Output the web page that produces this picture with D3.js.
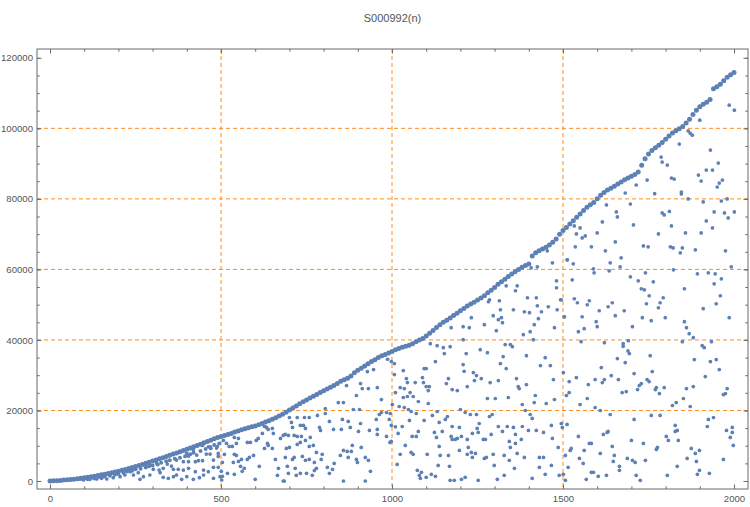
<!DOCTYPE html>
<html>
<head>
<meta charset="utf-8">
<script src="https://cdn.jsdelivr.net/npm/d3@7"></script>
<style>
html,body{margin:0;padding:0;background:#fff;}
svg{display:block;}
</style>
</head>
<body>
<svg id="chart" width="750" height="507"></svg>
<script>
// ---------- data ----------
const title = "S000992(n)";
const xTickLabels = [0, 500, 1000, 1500, 2000];
const yTickLabels = [0, 20000, 40000, 60000, 80000, 100000, 120000];

// upper envelope of the sequence, one value every 10 n (n = 0, 10, 20, ... 2000)
const envelopeStep = 10;
const envelopeValues = [
0,50,100,170,250,330,420,520,630,760,
900,1050,1200,1380,1560,1750,1940,2140,2350,2570,
2800,3040,3290,3550,3820,4100,4390,4690,5000,5320,
5640,5960,6290,6620,6950,7290,7630,7970,8310,8640,
8970,9340,9700,10070,10450,10830,11200,11550,11950,12300,
12600,12900,13200,13500,13900,14200,14500,14800,15100,15350,
15600,15950,16300,16700,17100,17500,17950,18450,18950,19500,
20100,20700,21300,21900,22500,23000,23500,24000,24550,25100,
25600,26100,26550,27050,27650,28250,28700,29100,29800,30700,
31400,32000,32600,33250,33850,34400,35000,35500,35900,36300,
36700,37200,37600,37900,38200,38500,38900,39500,40000,40400,
41100,41900,42700,43500,44300,45000,45600,46200,46900,47600,
48300,48900,49600,50200,50700,51300,51900,52500,53400,54100,
54900,55800,56500,57200,58000,58700,59300,60000,60600,61100,
61500,63800,64700,65300,65800,66300,66900,67700,68600,70000,
71000,71900,72900,73800,74800,75700,76700,77600,78300,79000,
80000,81000,81800,82500,83000,83600,84200,84800,85400,85900,
86400,86900,87600,89500,91400,92700,93700,94500,95200,96000,
96900,97800,98700,99300,99900,100500,101500,102600,103900,105100,
106100,106800,107400,108200,111200,111800,112500,113500,114500,115200,
115800
];

// terms lying just under the envelope for small n, [n, value]
const nearEnvelopePoints = [
[110,500],[130,700],[145,1100],[160,1300],[175,1500],[190,1800],[200,2000],[215,2300],[225,2700],[240,2900],
[250,3300],[265,3500],[280,3800],[290,4200],[300,4400],[315,4700],[325,5200],[340,5600],[350,5900],[365,6300],
[380,6600],[395,7000],[410,7600],[420,8000],[440,8500],[455,9100],[470,9300],[480,10200],[495,10600]
];

// scattered terms below the envelope, [n, value]
const scatterPoints = [
[463,9710],[469,9710],[446,10090],[487,9340],[457,7640],[446,5750],[434,5750],[425,5470],[405,5470],[390,5470],
[400,7830],[419,8770],[370,5940],[343,4810],[355,4240],[361,3300],[375,3300],[390,3110],[405,3580],[425,2640],
[449,3110],[463,2640],[478,3870],[492,3870],[449,1700],[437,940],[419,470],[400,1230],[385,470],[370,1700],
[361,1230],[346,750],[331,1040],[319,3110],[302,3300],[292,1700],[273,1230],[263,470],[244,1700],[258,2360],
[281,4050],[312,5000],[331,3580],[322,2360],[219,1700],[205,1230],[185,940],[166,570],[151,750],[137,570],
[195,2360],[176,1980],[156,1420],[127,940],[117,470],[98,280],[88,570],[234,2640],[292,4520],[405,7070],
[429,7360],[468,7640],[492,7830],[478,5940],[497,1230],[478,750],[502,280],
[928,31020],[946,31590],[867,27060],[908,27630],[913,26220],[931,26220],[957,26500],[969,23100],[896,24240],[987,34520],
[998,33850],[843,22250],[858,22250],[887,20270],[905,20270],[805,20560],[782,18580],[805,19140],[963,18860],[954,17450],
[969,19430],[984,19430],[995,19140],[992,17450],[855,17450],[852,14620],[817,16880],[829,14620],[872,16880],[878,15180],
[902,14050],[908,16310],[934,14330],[957,14620],[957,13200],[984,12640],[998,11220],[700,18010],[723,18010],[744,18010],
[758,18010],[788,15180],[791,14330],[741,15750],[732,15750],[709,15180],[714,12920],[723,12640],[735,12640],[747,14900],
[706,16600],[688,13200],[697,12920],[700,9520],[723,10370],[732,10940],[747,11500],[761,12350],[758,9810],[770,10090],
[779,8110],[796,7550],[793,6130],[773,5280],[758,6130],[747,5850],[738,6980],[709,6130],[714,6690],[717,3580],
[694,4150],[697,2170],[720,1600],[732,2170],[750,2170],[767,1600],[773,2960],[779,3580],[817,2170],[811,3870],
[826,3300],[831,4990],[849,7260],[858,8680],[869,8390],[872,6690],[881,8390],[896,6130],[899,5280],[922,6690],
[910,9520],[884,10090],[931,5850],[937,2740],[858,0],[922,0],[682,0],[685,0],[600,470],[665,1600],
[668,3580],[659,6130],[688,6690],[691,9240],[674,12070],[682,12920],[653,13480],[650,14900],[627,15470],[633,15180],
[638,14620],[621,13480],[609,12070],[603,11500],[586,10940],[577,10940],[636,10660],[627,9240],[650,9240],[638,10090],
[595,7260],[583,6690],[577,6130],[560,6130],[551,5560],[545,7260],[539,7550],[536,5280],[557,4150],[568,3580],
[562,2740],[539,1880],[519,2170],[504,1320],[501,2740],[492,6980],[504,5280],[510,7550],[489,9810],[507,11500],
[516,10660],[524,9810],[533,9810],[539,12350],[545,10660],[551,12070],[612,4150],
[1112,38950],[1132,38380],[1150,37810],[1170,38100],[1153,36120],[1217,36120],[1258,37250],[1279,36400],[1331,38670],[1346,38670],
[1352,38100],[1325,35270],[1317,33290],[1334,31870],[1393,35550],[1448,34980],[1434,32720],[1463,32720],[1127,33850],[1007,33290],
[1208,33000],[1211,31120],[1033,31310],[1007,30180],[1094,31870],[1100,31870],[1089,29330],[1092,27910],[1042,29050],[1045,27910],
[1068,27910],[1159,27630],[1165,29050],[1238,30740],[1247,29890],[1241,28480],[1261,29050],[1287,27910],[1311,28480],[1364,29050],
[1369,26780],[1372,26220],[1393,27350],[1419,24240],[1472,28760],[1475,23110],[1451,21970],[1010,25080],[1024,26500],[1036,26220],
[1033,23670],[1045,23960],[1053,25080],[1062,23960],[1077,22540],[1100,26780],[1109,26780],[1106,25650],[1106,21970],[1176,25930],
[1191,25650],[1220,26780],[1279,23390],[1302,23390],[1340,23670],[1381,21690],[1416,22250],[1001,21690],[1021,21120],[1036,20840],
[1048,20270],[1056,19710],[1071,19140],[1132,19710],[1156,17450],[1162,18290],[1200,20270],[1214,19430],[1229,18860],[1247,18860],
[1285,18290],[1293,18860],[1390,19990],[1404,18860],[1410,17730],[998,15750],[1010,15370],[1030,15460],[1018,13480],[1051,17170],
[1094,17170],[1118,18580],[1138,16600],[1124,13770],[1147,14050],[1130,12350],[1176,15460],[1197,15180],[1173,12640],[1176,11790],
[1185,11790],[1191,12070],[1203,12640],[1220,11790],[1235,13480],[1249,14900],[1255,16310],[1252,13770],[1267,11790],[1273,11790],
[1290,13200],[1311,15460],[1323,14050],[1337,15460],[1355,15180],[1361,13200],[1343,11220],[1346,9520],[1361,10660],[1378,11790],
[1381,15460],[1399,14330],[1422,14330],[1443,13770],[1469,12070],[1466,15750],[1059,12640],[1071,12640],[1077,14050],[1039,10090],
[1024,7550],[1056,8110],[1062,7550],[1103,7550],[1138,9810],[1141,7260],[1165,7260],[1197,8670],[1223,9520],[1220,7550],
[1232,8110],[1235,6690],[1244,7830],[1270,6410],[1276,6690],[1296,7550],[1328,7260],[1343,5850],[1366,7830],[1387,6690],
[1431,6690],[1443,6690],[1486,9520],[1015,4710],[1135,4430],[1168,4150],[1299,4430],[1358,3580],[1431,3870],[1466,4430],
[1074,3020],[1086,2450],[1080,1600],[1083,760],[1100,1040],[1115,1880],[1127,1320],[1170,190],[1182,190],[1203,470],
[1214,1040],[1252,190],[1308,470],[1328,1600],[1410,760],[1448,1880],[1489,1600],[994,10940],
[1454,65260],[1469,61860],[1513,62710],[1407,60450],[1425,60730],[1481,56770],[1481,54790],[1334,55350],[1366,55350],[1361,53940],
[1396,51960],[1422,51960],[1425,49690],[1493,51390],[1285,51390],[1282,50830],[1314,51110],[1317,48560],[1355,48560],[1387,47990],
[1402,47720],[1437,47990],[1457,49410],[1483,48560],[1232,46300],[1296,46870],[1311,45740],[1320,46300],[1323,44890],[1428,46020],
[1504,46580],[1173,43470],[1208,43750],[1226,43470],[1270,44320],[1305,42620],[1416,44320],[1404,42340],[1384,41490],[1475,43470],
[1413,40080],[1208,40080],
[1545,42340],[1553,39510],[1621,39230],[1676,38950],[1676,38190],[1691,39800],[1690,36870],[1694,36120],[1755,35550],[1682,33570],
[1659,34700],[1612,32160],[1501,30740],[1539,29330],[1518,28200],[1574,27350],[1594,28760],[1615,27910],[1621,28760],[1641,29890],
[1662,28760],[1708,30460],[1761,31030],[1746,28760],[1752,28200],[1729,27630],[1723,27060],[1718,25930],[1685,25370],[1673,25080],
[1773,26500],[1770,25930],[1782,24800],[1796,26500],[1518,25080],[1510,24240],[1571,23390],[1550,21690],[1594,20840],[1609,19990],
[1849,39510],[1869,41770],[1881,40640],[1907,38380],[1913,37810],[1934,39510],[1884,34420],[1931,33850],[1948,34420],[1957,31590],
[1916,29610],[1881,26780],[1861,26220],[1852,23390],[1831,22250],[1820,21410],[1872,21120],[1969,24520],[1975,24800],[1980,26220],
[1495,16310],[1498,15180],[1512,16030],[1638,18860],[1708,17450],[1758,18580],[1784,18580],[1545,12640],[1618,13200],[1629,13770],
[1632,14050],[1577,10660],[1583,10660],[1521,8670],[1524,9240],[1562,8670],[1507,7260],[1515,3870],[1548,6410],[1559,4990],
[1609,7830],[1644,9810],[1650,7260],[1647,5560],[1665,4150],[1665,3020],[1700,11500],[1735,10660],[1688,6410],[1703,5850],
[1711,5280],[1741,5850],[1776,9520],[1773,8960],[1802,12640],[1808,11500],[1828,15750],[1834,14330],[1828,14050],[1837,11500],
[1875,9240],[1887,7830],[1899,8670],[1863,6410],[1890,5560],[1834,4150],[1925,17450],[1940,18010],[1922,15460],[1978,14330],
[1995,15180],[1995,13770],[1989,12350],[1998,10090],[1969,6130],[1583,2450],[1589,2450],[1603,1320],[1627,1600],[1568,470],
[1501,1880],[1507,190],[1714,1600],[1726,190],[1805,1600],[1899,3020],[1893,1880],[1928,2170],
[1682,81660],[1768,81480],[1846,81950],[1846,81380],[1866,79970],[1910,79120],[1963,79400],[1980,79970],[1627,78270],[1697,78550],
[1656,76290],[1659,74870],[1790,76000],[1796,75440],[1811,76430],[1942,76290],[1972,76000],[2001,76290],[1983,74590],[1919,73740],
[1615,73460],[1706,72610],[1817,72330],[1937,71760],[1533,72330],[1550,71760],[1539,70060],[1556,68930],[1565,69500],[1600,70350],
[1779,70060],[1858,70350],[1904,70350],[1653,67800],[1536,66390],[1583,66390],[1735,66670],[1749,66390],[1814,66390],[1822,66100],
[1849,66100],[1843,64690],[1887,65540],[1975,65260],[1624,65260],[1512,62710],[1530,61580],[1638,61860],[1670,63280],[1667,60730],
[1589,60160],[1591,59030],[1635,59600],[1741,59030],[1823,59880],[1992,60730],[1893,58750],[1925,59030],[1945,58750],[1527,57050],
[1697,57900],[1720,56770],[1764,56490],[1963,57330],[1942,55920],[1729,54510],[1738,54220],[1855,54510],[1752,52530],[1793,51960],
[1960,52530],[1533,51680],[1542,50540],[1577,51110],[1571,49980],[1644,50540],[1632,49410],[1744,50260],[1784,50540],[1779,49130],
[1948,50260],[1910,48850],[1504,46580],[1556,46580],[1606,48280],[1679,48280],[1653,46870],[1732,46300],[1758,45450],[1799,46300],
[1986,46300],[1597,45170],[1600,43750],[1703,43750],[1855,45170],[1861,43470],[1562,43190],[1495,51390],
[1986,106560],[2001,105140],[1900,102320],[1866,99300],[1872,98640],[1878,98070],[1840,95530],[1931,93830],[1787,91850],[1790,90430],
[1805,89580],[1954,90150],[1919,88170],[1937,88170],[1896,86760],[1904,85060],[1966,85340],[1957,84490],[1951,83360],[1817,85910],
[1825,85620],[1746,85340],[1714,83930]
];

// ---------- layout ----------
const frame = {left: 37, right: 748, top: 49, bottom: 489};
const dotColor = "#5e81b5";
const gridColor = "#ff8c1a";
const axisColor = "#6b6b6b";
const labelColor = "#555";
const fontFamily = "'Liberation Sans', Arial, sans-serif";

const svg = d3.select("#chart");

const x = d3.scaleLinear().domain([0, 2000]).range([50, 734]);
const y = d3.scaleLinear().domain([0, 120000]).range([481, 57.8]);

// gridlines
const grid = svg.append("g");
grid.selectAll("line.gx").data(xTickLabels.filter(d => d > 0 && d < 2000)).enter()
  .append("line")
  .attr("x1", d => x(d)).attr("x2", d => x(d))
  .attr("y1", frame.top).attr("y2", frame.bottom)
  .attr("stroke", gridColor).attr("stroke-width", 1).attr("stroke-dasharray", "4,3");
grid.selectAll("line.gy").data(yTickLabels.filter(d => d > 0 && d < 120000)).enter()
  .append("line")
  .attr("y1", d => y(d)).attr("y2", d => y(d))
  .attr("x1", frame.left).attr("x2", frame.right)
  .attr("stroke", gridColor).attr("stroke-width", 1).attr("stroke-dasharray", "4,3");

// points
const pts = svg.append("g").attr("fill", dotColor);
pts.selectAll("circle.env").data(envelopeValues).enter()
  .append("circle")
  .attr("cx", (d, i) => x(i * envelopeStep))
  .attr("cy", d => y(d))
  .attr("r", 2.5);
pts.selectAll("circle.near").data(nearEnvelopePoints).enter()
  .append("circle")
  .attr("cx", d => x(d[0]))
  .attr("cy", d => y(d[1]))
  .attr("r", 2.0);
pts.selectAll("circle.sc").data(scatterPoints).enter()
  .append("circle")
  .attr("cx", d => x(d[0]))
  .attr("cy", d => y(d[1]))
  .attr("r", 1.85);

// frame
svg.append("rect")
  .attr("x", frame.left).attr("y", frame.top)
  .attr("width", frame.right - frame.left).attr("height", frame.bottom - frame.top)
  .attr("fill", "none").attr("stroke", axisColor).attr("stroke-width", 1);

const xMinor = x.ticks(20);
const yMinor = y.ticks(24);

function addAxis(axisGen, transform) {
  const g = svg.append("g").attr("transform", transform).call(axisGen);
  g.select(".domain").remove();
  g.selectAll("line").attr("stroke", axisColor);
  g.selectAll("text").attr("fill", labelColor)
    .style("font-family", fontFamily).style("font-size", "9.6px");
  return g;
}

// bottom
addAxis(d3.axisBottom(x).tickValues(xMinor).tickSize(-2.7).tickFormat(""), `translate(0,${frame.bottom})`);
addAxis(d3.axisBottom(x).tickValues(xTickLabels).tickSize(-4.5).tickPadding(6).tickFormat(d3.format("d")), `translate(0,${frame.bottom})`);
// top
addAxis(d3.axisTop(x).tickValues(xMinor).tickSize(-2.7).tickFormat(""), `translate(0,${frame.top})`);
addAxis(d3.axisTop(x).tickValues(xTickLabels).tickSize(-4.5).tickFormat(""), `translate(0,${frame.top})`);
// left
addAxis(d3.axisLeft(y).tickValues(yMinor).tickSize(-2.7).tickFormat(""), `translate(${frame.left},0)`);
addAxis(d3.axisLeft(y).tickValues(yTickLabels).tickSize(-4.5).tickPadding(4).tickFormat(d3.format("d")), `translate(${frame.left},0)`);
// right
addAxis(d3.axisRight(y).tickValues(yMinor).tickSize(-2.7).tickFormat(""), `translate(${frame.right},0)`);
addAxis(d3.axisRight(y).tickValues(yTickLabels).tickSize(-4.5).tickFormat(""), `translate(${frame.right},0)`);

// title
svg.append("text")
  .attr("x", (frame.left + frame.right) / 2)
  .attr("y", 22)
  .attr("text-anchor", "middle")
  .attr("fill", labelColor)
  .style("font-family", fontFamily)
  .style("font-size", "11px")
  .text(title);
</script>
</body>
</html>
